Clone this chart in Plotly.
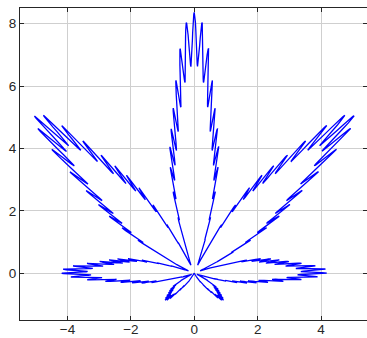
import numpy as np
import plotly.graph_objects as go

# Cannabis curve parameters (polar): r = a(1+c1 cos(k1 t))(1+c2 cos(k2 t))(c3+c4 cos(k3 t))(1+sin t)
scale_a = [2.0]
leaf_freqs = [8, 24, 200]
leaf_coefs = [0.9, 0.1, 0.9, 0.1]
n_samples = [4000]

x_ticks = [-4, -2, 0, 2, 4]
y_ticks = [0, 2, 4, 6, 8]

t = np.linspace(0, 2 * np.pi, n_samples[0])
r = (scale_a[0]
     * (1 + leaf_coefs[0] * np.cos(leaf_freqs[0] * t))
     * (1 + leaf_coefs[1] * np.cos(leaf_freqs[1] * t))
     * (leaf_coefs[2] + leaf_coefs[3] * np.cos(leaf_freqs[2] * t))
     * (1 + np.sin(t)))
x = r * np.cos(t)
y = r * np.sin(t)

fig = go.Figure(go.Scatter(x=x, y=y, mode="lines",
                           line=dict(color="#0000ff", width=1.3),
                           hoverinfo="skip"))

axis_common = dict(
    showgrid=True, gridcolor="#cfcfcf", gridwidth=1,
    zeroline=False, showline=True, linecolor="#262626", linewidth=1,
    mirror="ticks", ticks="inside", ticklen=4, tickcolor="#262626",
    tickfont=dict(family="Liberation Sans, Arial, sans-serif", size=13.5, color="#262626"),
    automargin=False,
)
fig.update_xaxes(range=[-5.5, 5.45], tickvals=x_ticks, ticklabelstandoff=-3, **axis_common)
fig.update_yaxes(range=[-1.5, 8.5], tickvals=y_ticks, **axis_common)

fig.update_layout(
    width=367, height=338,
    margin=dict(l=20, r=0, t=8, b=18, pad=0),
    plot_bgcolor="white", paper_bgcolor="white",
    showlegend=False,
)
fig.write_html("out.html", config={"displayModeBar": False},
               post_script="document.body.style.margin='0';document.body.style.overflow='hidden';")
